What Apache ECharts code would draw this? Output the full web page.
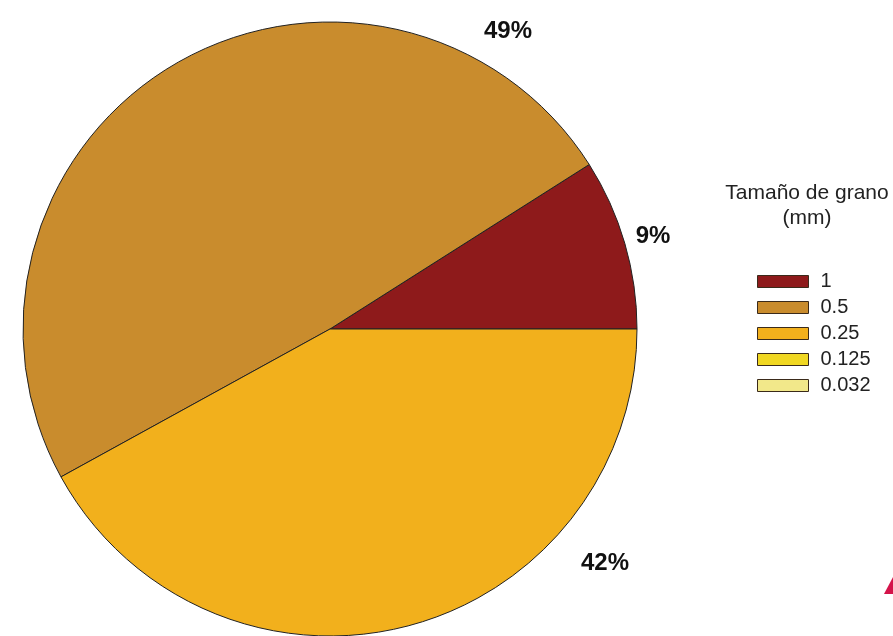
<!DOCTYPE html>
<html><head><meta charset="utf-8">
<script src="https://cdn.jsdelivr.net/npm/echarts@6/dist/echarts.min.js"></script>
<style>html,body{margin:0;padding:0;background:#fff}#c{width:893px;height:636px}</style>
</head><body><div id="c"></div>
<script>
const categories = ['1', '0.5', '0.25', '0.125', '0.032'];
const values = [9, 49, 42, 0, 0];
const colors = ['#8E1A1B', '#C98C2D', '#F2B01C', '#F0D722', '#F2E88A'];
const legendTitle = 'Tamaño de grano\n(mm)';
const labelPos = [[653, 236], [508, 31], [605, 563], null, null];

const chart = echarts.init(document.getElementById('c'));
chart.setOption({
  animation: false,
  backgroundColor: '#fff',
  graphic: [
    { type: 'text', x: 807, y: 181, style: { text: legendTitle, textAlign: 'center', textVerticalAlign: 'top', font: '21px "Liberation Sans"', lineHeight: 25, fill: '#222' } },
    { type: 'polygon', shape: { points: [[893, 577], [893, 594], [884, 594]] }, style: { fill: '#D4134A' } }
  ],
  legend: {
    orient: 'vertical', left: 757, top: 271, padding: 0,
    icon: 'rect',
    itemWidth: 51, itemHeight: 12, itemGap: 5,
    data: categories,
    itemStyle: { borderColor: '#3a2a1a', borderWidth: 1 },
    textStyle: { fontFamily: 'Liberation Sans', fontSize: 20, color: '#222', lineHeight: 21, padding: [0, 0, 0, 7] },
    selectedMode: false
  },
  series: [{
    type: 'pie',
    center: [330, 329], radius: 307,
    startAngle: 0, clockwise: false,
    minAngle: 0, avoidLabelOverlap: false,
    data: categories.map((n, i) => ({
      name: n, value: values[i],
      itemStyle: { color: colors[i], borderWidth: values[i] ? 1 : 0 },
      label: { show: values[i] > 0 }
    })),
    itemStyle: { borderColor: '#222', borderWidth: 1 },
    label: { position: 'outside', formatter: '{d}%', fontFamily: 'Liberation Sans', fontWeight: 'bold', fontSize: 24, color: '#111' },
    labelLine: { show: false },
    labelLayout: p => labelPos[p.dataIndex] ? { x: labelPos[p.dataIndex][0], y: labelPos[p.dataIndex][1], align: 'center', verticalAlign: 'middle' } : {}
  }]
});
</script></body></html>
